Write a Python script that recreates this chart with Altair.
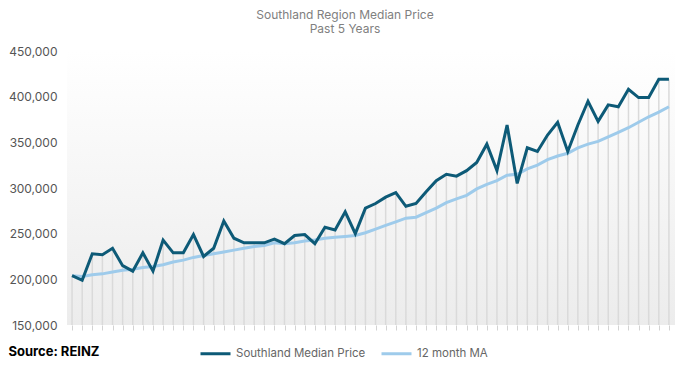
import altair as alt
import pandas as pd

month_index = list(range(60))
median_price = [
    204000, 199000, 228000, 227000, 234000, 215000, 209000, 229000, 209000, 243000,
    229000, 229000, 249000, 225000, 234000, 264000, 245000, 240000, 240000, 240000,
    244000, 239000, 248000, 249000, 239000, 257000, 254000, 274000, 250000, 278000,
    283000, 290000, 295000, 280000, 283000, 296000, 308000, 315000, 313000, 319000,
    328000, 348000, 319000, 369000, 305000, 344000, 340000, 358000, 372000, 340000,
    369000, 395000, 373000, 391000, 389000, 408000, 399000, 399000, 419000, 419000,
]
moving_avg = [
    204000, 203000, 205000, 206000, 208000, 210000, 211000, 213000, 214000, 216000,
    219000, 221000, 224000, 226000, 228000, 230000, 232000, 234000, 236000, 237000,
    240000, 239000, 240000, 242000, 243000, 245000, 246000, 247000, 248000, 251000,
    255000, 259000, 263000, 267000, 268000, 273000, 278000, 284000, 288000, 292000,
    299000, 304000, 308000, 314000, 315000, 321000, 325000, 331000, 335000, 338000,
    344000, 348000, 351000, 356000, 361000, 366000, 372000, 378000, 383000, 389000,
]
series_names = ["Southland Median Price", "12 month MA"]
series_colors = ["#0d5a77", "#9ecbeb"]
y_ticks = [150000, 200000, 250000, 300000, 350000, 400000, 450000]

df = pd.DataFrame({"m": month_index, "price": median_price, "ma": moving_avg})

x_scale = alt.Scale(domain=[-0.5, 59.6], nice=False, zero=False)
y_scale = alt.Scale(domain=[150000, 450000], nice=False, zero=False)
color_scale = alt.Scale(domain=series_names, range=series_colors)

x_axis = alt.Axis(
    labels=False, grid=False, domain=False, ticks=True, tickSize=5,
    tickColor="#d3d3d3", values=month_index,
    title="Source: REINZ", titleX=-59, titleY=26, titleAlign="left",
    titleBaseline="middle", titleFontSize=13, titleFontWeight="bold",
    titleColor="#000000",
)
y_axis = alt.Axis(
    values=y_ticks, labelExpr="format(datum.value, ',')", grid=False,
    domain=False, ticks=False, labelPadding=10, labelFontSize=12,
    labelColor="#555555", title=None,
)

bg = alt.Chart(pd.DataFrame({"a": [0]})).mark_rect(
    color=alt.Gradient(
        gradient="linear",
        stops=[alt.GradientStop(color="#ffffff", offset=0),
               alt.GradientStop(color="#ececec", offset=1)],
        x1=0, x2=0, y1=0, y2=1,
    )
).encode(x=alt.value(0), x2=alt.value("width"), y=alt.value(0), y2=alt.value("height"))

drops = alt.Chart(df).mark_rule(color="#dadada", strokeWidth=1.5).encode(
    x=alt.X("m:Q", scale=x_scale, axis=x_axis),
    y=alt.Y("price:Q", scale=y_scale, axis=y_axis),
    y2=alt.datum(150000),
)

legend = alt.Legend(
    orient="none", legendX=132, legendY=286, direction="horizontal", title=None,
    labelFontSize=11.5, labelColor="#666666", symbolType="stroke",
    symbolStrokeWidth=3, symbolSize=900, columnPadding=9, labelOffset=4,
)

ma_line = alt.Chart(df).transform_calculate(series="'12 month MA'").mark_line(strokeWidth=3).encode(
    x=alt.X("m:Q", scale=x_scale, axis=x_axis),
    y=alt.Y("ma:Q", scale=y_scale, axis=y_axis),
    color=alt.Color("series:N", scale=color_scale, legend=legend),
)
price_line = alt.Chart(df).transform_calculate(series="'Southland Median Price'").mark_line(strokeWidth=3).encode(
    x=alt.X("m:Q", scale=x_scale, axis=x_axis),
    y=alt.Y("price:Q", scale=y_scale, axis=y_axis),
    color=alt.Color("series:N", scale=color_scale, legend=legend),
)

chart = alt.layer(bg, drops, ma_line, price_line).properties(
    width=608, height=274,
    padding={"left": 59, "top": 43, "right": 3, "bottom": 35},
    autosize=alt.AutoSizeParams(type="none"),
    title=alt.TitleParams(
        text=["Southland Region Median Price", "Past 5 Years"],
        fontSize=12, fontWeight="normal", color="#808080", lineHeight=14,
        anchor="middle", dx=-26, offset=9,
    ),
).configure(font="Inter").configure_view(strokeWidth=0)

chart.save("out.html", embed_options={"renderer": "svg", "actions": False})
